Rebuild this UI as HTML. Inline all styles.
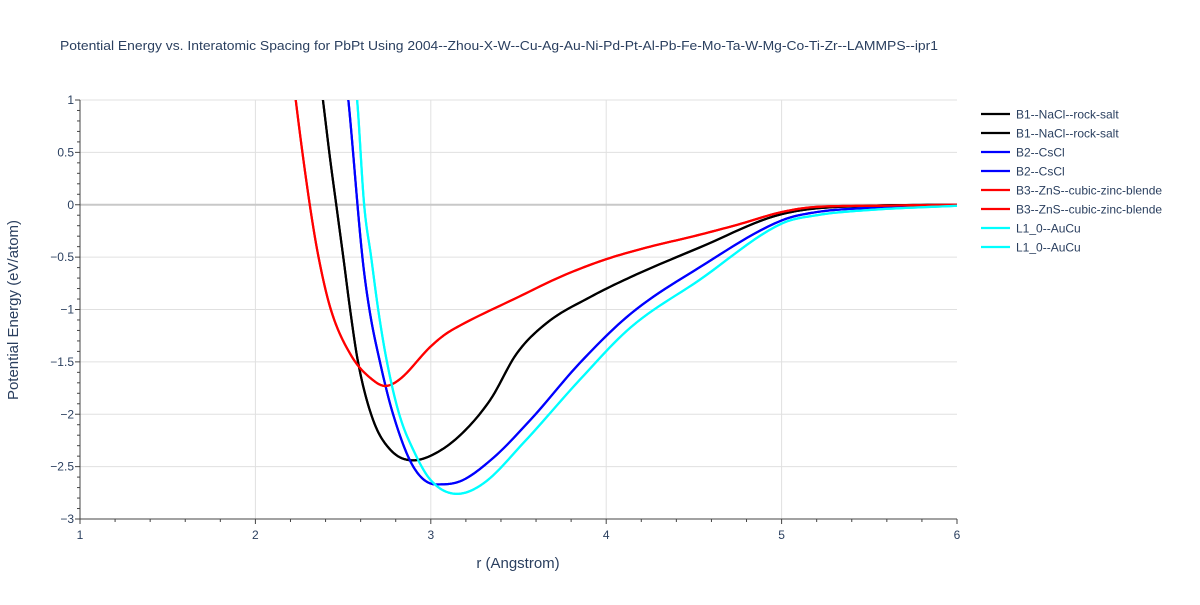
<!DOCTYPE html>
<html><head><meta charset="utf-8"><style>
body{margin:0;background:#fff;font-family:"Liberation Sans",sans-serif}
svg text{font-family:"Liberation Sans",sans-serif;fill:#2a3f5f}
</style></head><body>
<svg id="chart" width="1200" height="600">
<rect width="1200" height="600" fill="#fff"/>
<text x="60" y="50" font-size="13" textLength="878" lengthAdjust="spacingAndGlyphs">Potential Energy vs. Interatomic Spacing for PbPt Using 2004--Zhou-X-W--Cu-Ag-Au-Ni-Pd-Pt-Al-Pb-Fe-Mo-Ta-W-Mg-Co-Ti-Zr--LAMMPS--ipr1</text>
<defs><clipPath id="clip"><rect x="80" y="100" width="877" height="419"/></clipPath></defs>
<g id="grid"></g><g id="axes"></g><g id="series" clip-path="url(#clip)"></g><g id="legend"></g>
<text x="518" y="568" font-size="15" text-anchor="middle">r (Angstrom)</text>
<text transform="translate(18,310) rotate(-90)" font-size="15" text-anchor="middle">Potential Energy (eV/atom)</text>
</svg>
<script>
const xTicks=[1,2,3,4,5,6];
const yTicks=[1,0.5,0,-0.5,-1,-1.5,-2,-2.5,-3];
const seriesNames=["B1--NaCl--rock-salt","B2--CsCl","B3--ZnS--cubic-zinc-blende","L1_0--AuCu"];
const seriesColors=["#000000","#0000ff","#ff0000","#00ffff"];
const b1R=[2.34,2.385,2.425,2.465,2.505,2.54,2.585,2.67,2.77,2.9,3.03,3.18,3.34,3.49,3.66,3.91,4.14,4.53,5.0,5.5,6.0];
const b1E=[1.6,1.0,0.45,-0.05,-0.55,-1.0,-1.5,-2.05,-2.34,-2.44,-2.37,-2.18,-1.86,-1.42,-1.13,-0.88,-0.69,-0.41,-0.09,-0.01,0];
const b2R=[2.49,2.53,2.61,2.65,2.71,2.785,2.9,3.03,3.15,3.34,3.57,3.85,4.14,4.53,5.0,5.2,5.5,6.0];
const b2E=[1.6,1.0,-0.5,-1.0,-1.5,-2.0,-2.5,-2.67,-2.65,-2.44,-2.05,-1.51,-1.04,-0.6,-0.15,-0.07,-0.03,0];
const b3R=[2.19,2.23,2.31,2.36,2.43,2.55,2.66,2.74,2.82,2.995,3.08,3.17,3.5,3.75,4.0,4.25,4.5,4.75,5.0,5.2,5.5,6.0];
const b3E=[1.6,1.0,0.0,-0.5,-1.0,-1.45,-1.66,-1.73,-1.67,-1.36,-1.24,-1.15,-0.88,-0.68,-0.52,-0.4,-0.3,-0.19,-0.07,-0.02,-0.01,0];
const l10R=[2.54,2.58,2.62,2.66,2.70,2.75,2.82,2.9,3.0,3.15,3.3,3.53,3.85,4.14,4.53,5.0,5.2,5.5,6.0];
const l10E=[1.6,1.0,0.0,-0.5,-1.0,-1.5,-2.0,-2.34,-2.63,-2.76,-2.66,-2.27,-1.67,-1.17,-0.72,-0.18,-0.1,-0.05,-0.01];
const allR=[b1R,b2R,b3R,l10R], allE=[b1E,b2E,b3E,l10E];
const NS="http://www.w3.org/2000/svg";
const X0=80,X1=957,Y0=519,Y1=100;
const sx=r=>X0+(r-1)/(6-1)*(X1-X0);
const sy=e=>Y0-(e+3)/(1+3)*(Y0-Y1);
function mk(tag,attrs,parent){const el=document.createElementNS(NS,tag);for(const k in attrs)el.setAttribute(k,attrs[k]);parent.appendChild(el);return el;}
const grid=document.getElementById('grid'),axes=document.getElementById('axes');
xTicks.forEach(t=>{
 if(t>1&&t<6){const g=mk('line',{x1:sx(t),x2:sx(t),y1:Y1,y2:Y0,stroke:'#e0e0e0','stroke-width':1},grid);
 
 }
 const tx=mk('text',{x:sx(t),y:Y0+20,'font-size':12,'text-anchor':'middle'},axes);tx.textContent=t;
 
 
});
for(let i=0;i<=25;i++){const r=1+i*0.2;mk('line',{x1:sx(r),x2:sx(r),y1:Y0,y2:Y0+(i%5==0?5:3),stroke:'#444','stroke-width':1},axes);}
yTicks.forEach(t=>{
 const g=mk('line',{x1:X0,x2:X1,y1:sy(t),y2:sy(t),stroke:t===0?'#c8c8c8':'#e0e0e0','stroke-width':t===0?2:1},grid);
 
 
 const tx=mk('text',{x:X0-6,y:sy(t)+4,'font-size':12,'text-anchor':'end'},axes);tx.textContent=t<0?'\u2212'+Math.abs(t):t;
 
 
});
for(let i=0;i<=40;i++){const e=1-i*0.1;mk('line',{x1:X0,x2:X0-(i%5==0?5:3),y1:sy(e),y2:sy(e),stroke:'#444','stroke-width':1},axes);}
mk('line',{x1:X0,x2:X0,y1:Y1,y2:Y0,stroke:'#444'},axes);
mk('line',{x1:X0,x2:X1,y1:Y0,y2:Y0,stroke:'#444'},axes);
function pathD(xs,ys){const n=xs.length,d=[],m=new Array(n);
 for(let i=0;i<n-1;i++)d.push((ys[i+1]-ys[i])/(xs[i+1]-xs[i]));
 m[0]=d[0];m[n-1]=d[n-2];
 for(let i=1;i<n-1;i++)m[i]=(d[i-1]*d[i]<=0)?0:(d[i-1]+d[i])/2;
 for(let i=0;i<n-1;i++){if(d[i]===0){m[i]=m[i+1]=0;continue;}const a=m[i]/d[i],b=m[i+1]/d[i],s=a*a+b*b;if(s>9){const t=3/Math.sqrt(s);m[i]=t*a*d[i];m[i+1]=t*b*d[i];}}
 let p='M'+sx(xs[0])+','+sy(ys[0]);
 for(let i=0;i<n-1;i++){const h=xs[i+1]-xs[i];
  for(let k=1;k<=12;k++){const t=k/12,t2=t*t,t3=t2*t;
   const y=(2*t3-3*t2+1)*ys[i]+(t3-2*t2+t)*h*m[i]+(-2*t3+3*t2)*ys[i+1]+(t3-t2)*h*m[i+1];
   p+='L'+sx(xs[i]+t*h).toFixed(2)+','+sy(y).toFixed(2);}}
 return p;}
const sg=document.getElementById('series'),lg=document.getElementById('legend');
const order=[0,1,2,3];
order.forEach(s=>{for(let k=0;k<2;k++){
 const p=mk('path',{d:pathD(allR[s],allE[s]),fill:'none',stroke:seriesColors[s],'stroke-width':2.2,'stroke-linejoin':'round'},sg);
 
 
}});
let row=0;
order.forEach(s=>{for(let k=0;k<2;k++){const y=114+row*19;
 const g=mk('g',{},lg);
 
 
 mk('line',{x1:981,x2:1010,y1:y,y2:y,stroke:seriesColors[s],'stroke-width':2.2},g);
 const t=mk('text',{x:1016,y:y+4.5,'font-size':12},g);t.textContent=seriesNames[s];
 row++;}});
</script>
</body></html>
